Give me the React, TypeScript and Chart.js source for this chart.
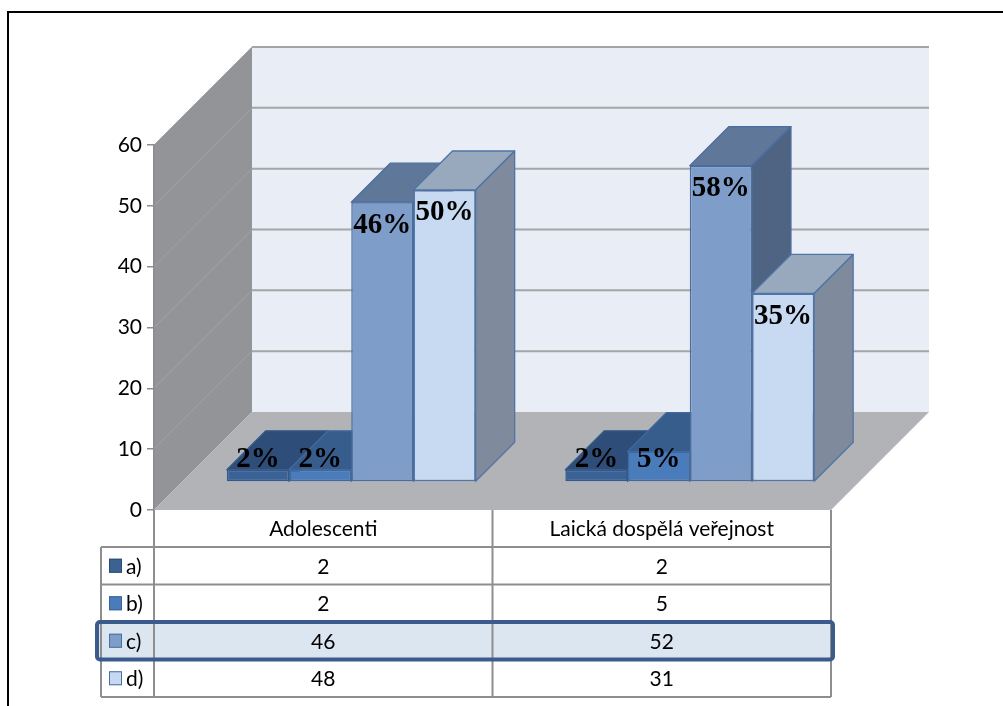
import React, { useEffect, useRef } from 'react';
import { Chart, registerables } from 'chart.js';

Chart.register(...registerables);

// Survey answers per group (counts), plus the percentage shown on each column
const categories = ['Adolescenti', 'Laická dospělá veřejnost'];
const seriesNames = ['a)', 'b)', 'c)', 'd)'];
const valuesA = [2, 2];
const valuesB = [2, 5];
const valuesC = [46, 52];
const valuesD = [48, 31];
const percentA = [2, 2];
const percentB = [2, 5];
const percentC = [46, 58];
const percentD = [50, 35];
const yMax = 60;
const yStep = 10;
const highlightedRow = 2;

const seriesValues = [valuesA, valuesB, valuesC, valuesD];
const seriesPercents = [percentA, percentB, percentC, percentD];

const faceColors = [
  { front: '#3b6297', top: '#2e4d78', side: '#28446b', edge: '#34598a', key: '#3c6193', keyEdge: '#2d4a73' },
  { front: '#4a7bbb', top: '#375d8d', side: '#2f4f7a', edge: '#41699f', key: '#4a7bbb', keyEdge: '#3a64a0' },
  { front: '#7f9dc9', top: '#5f7798', side: '#4f6383', edge: '#4a6d9e', key: '#7f9dc9', keyEdge: '#4a6fa0' },
  { front: '#c7daf1', top: '#99a9bd', side: '#7f8b9d', edge: '#4f74a5', key: '#c6d9f0', keyEdge: '#4a6fa0' },
];

// Oblique projection: columns sit FRONT_OFFSET deep, are BAR_DEPTH deep, walls are WALL_DEPTH deep
const FRONT_OFFSET = 28;
const BAR_DEPTH = 39;
const WALL_DEPTH = 98;

const TEXT_FONT = '21px Lato';
const HEADER_H = 37;
const ROW_H = 37.5;
const LABEL_COL_W = 53;

type Pt = [number, number];

function polygon(ctx: CanvasRenderingContext2D, pts: Pt[], fill?: string, stroke?: string, lw = 1) {
  ctx.beginPath();
  ctx.moveTo(pts[0][0], pts[0][1]);
  for (let i = 1; i < pts.length; i++) ctx.lineTo(pts[i][0], pts[i][1]);
  ctx.closePath();
  if (fill) {
    ctx.fillStyle = fill;
    ctx.fill();
  }
  if (stroke) {
    ctx.strokeStyle = stroke;
    ctx.lineWidth = lw;
    ctx.lineJoin = 'round';
    ctx.stroke();
  }
}

function line(ctx: CanvasRenderingContext2D, x1: number, y1: number, x2: number, y2: number, color: string, lw: number) {
  ctx.beginPath();
  ctx.moveTo(x1, y1);
  ctx.lineTo(x2, y2);
  ctx.strokeStyle = color;
  ctx.lineWidth = lw;
  ctx.stroke();
}

const scenePlugin = {
  id: 'scene3d',
  beforeDraw(chart: any) {
    const { ctx, chartArea: ca } = chart;
    const yScale = chart.scales.y;
    const L = ca.left, R = ca.right, T = ca.top, B = ca.bottom;
    const D = WALL_DEPTH;
    ctx.save();
    ctx.fillStyle = '#ffffff';
    ctx.fillRect(0, 0, chart.width, chart.height);

    // frame around the whole figure
    ctx.strokeStyle = '#000000';
    ctx.lineWidth = 2;
    ctx.strokeRect(8, 12, chart.width + 20, chart.height + 20);

    // back wall
    ctx.fillStyle = '#e9edf6';
    ctx.fillRect(L + D, T - D, R - L, B - T);
    // side wall
    polygon(ctx, [[L, T], [L + D, T - D], [L + D, B - D], [L, B]], '#929497');
    // floor
    polygon(ctx, [[L, B], [R, B], [R + D, B - D], [L + D, B - D]], '#b1b3b6');

    for (let v = yStep; v <= yMax; v += yStep) {
      const yy = yScale.getPixelForValue(v);
      line(ctx, L + D, yy - D, R + D, yy - D, '#a4a5a7', 2);
      line(ctx, L, yy, L + D, yy - D, '#a2a4a7', 1);
    }
    ctx.restore();
  },
  // Columns are painted series a) to d) (left to right), each one as front face
  // (drawn by the bar controller) plus top and side faces, pushed back into the scene.
  beforeDatasetsDraw(chart: any) {
    const ctx = chart.ctx;
    const d = BAR_DEPTH;
    for (let i = 0; i < seriesNames.length; i++) {
      const meta = chart.getDatasetMeta(i);
      const c = faceColors[i];
      ctx.save();
      ctx.translate(FRONT_OFFSET, -FRONT_OFFSET);
      meta.controller.draw();
      meta.data.forEach((bar: any) => {
        const { x, y, base, width } = bar.getProps(['x', 'y', 'base', 'width'], true);
        const l = x - width / 2;
        const r = x + width / 2;
        polygon(ctx, [[l, y], [r, y], [r + d, y - d], [l + d, y - d]], c.top, c.edge, 1.3);
        polygon(ctx, [[r, y], [r + d, y - d], [r + d, base - d], [r, base]], c.side, c.edge, 1.3);
      });
      ctx.restore();
    }
    return false;
  },
  afterDraw(chart: any) {
    const { ctx, chartArea: ca } = chart;
    const xScale = chart.scales.x;
    const L = ca.left, R = ca.right, B = ca.bottom;

    // percentage labels on the columns
    ctx.save();
    ctx.font = 'bold 29px "Liberation Serif"';
    ctx.fillStyle = '#000000';
    ctx.textAlign = 'center';
    ctx.textBaseline = 'middle';
    seriesPercents.forEach((pcts, i) => {
      const meta = chart.getDatasetMeta(i);
      meta.data.forEach((bar: any, j: number) => {
        const { x, y, base } = bar.getProps(['x', 'y', 'base'], true);
        const ly = Math.min(y + 23, base - 22) - FRONT_OFFSET;
        ctx.fillText(pcts[j] + '%', x + FRONT_OFFSET, ly);
      });
    });
    ctx.restore();

    // data table below the floor
    const mid = (xScale.getPixelForValue(0) + xScale.getPixelForValue(1)) / 2;
    const colEdges = [L, mid, R];
    const left = L - LABEL_COL_W;
    const rowTop = (i: number) => B + HEADER_H + i * ROW_H;
    const gridColor = '#8e8e8e';

    ctx.save();
    ctx.fillStyle = '#dce6f1';
    ctx.fillRect(left - 3, rowTop(highlightedRow), R - left + 5, ROW_H);

    for (let i = 0; i <= seriesNames.length; i++) {
      line(ctx, left, rowTop(i), R, rowTop(i), gridColor, 2);
    }
    line(ctx, left, rowTop(0), left, rowTop(seriesNames.length), gridColor, 2);
    colEdges.forEach((xe) => line(ctx, xe, B, xe, rowTop(seriesNames.length), gridColor, 2));

    ctx.font = TEXT_FONT;
    ctx.fillStyle = '#000000';
    ctx.textBaseline = 'middle';
    ctx.textAlign = 'center';
    categories.forEach((cat, j) => {
      ctx.fillText(cat, xScale.getPixelForValue(j), B + HEADER_H / 2 + 1);
    });

    seriesNames.forEach((name, i) => {
      const cy = rowTop(i) + ROW_H / 2;
      const c = faceColors[i];
      // legend key
      ctx.fillStyle = c.key;
      ctx.fillRect(left + 8, cy - 7, 13, 14);
      ctx.strokeStyle = c.keyEdge;
      ctx.lineWidth = 1;
      ctx.strokeRect(left + 8.5, cy - 6.5, 12, 13);
      ctx.fillStyle = '#000000';
      ctx.textAlign = 'left';
      ctx.fillText(name, left + 25, cy + 1);
      ctx.textAlign = 'center';
      seriesValues[i].forEach((v, j) => {
        ctx.fillText(String(v), xScale.getPixelForValue(j), cy + 1);
      });
    });

    // outline of the highlighted row
    ctx.strokeStyle = '#3b5b8c';
    ctx.lineWidth = 4;
    ctx.beginPath();
    (ctx as any).roundRect(left - 4, rowTop(highlightedRow), R - left + 6, ROW_H, 3);
    ctx.stroke();
    ctx.restore();
  },
};

export default function App() {
  const canvasRef = useRef<HTMLCanvasElement>(null);

  useEffect(() => {
    if (!canvasRef.current) return;
    const chart = new Chart(canvasRef.current, {
      type: 'bar',
      data: {
        labels: categories,
        datasets: seriesNames.map((name, i) => ({
          label: name,
          data: seriesValues[i],
          backgroundColor: faceColors[i].front,
          borderColor: faceColors[i].edge,
          borderWidth: 1.5,
          borderSkipped: false,
          categoryPercentage: 0.735,
          barPercentage: 1,
        })),
      },
      options: {
        responsive: false,
        devicePixelRatio: 1,
        animation: false,
        layout: { padding: { left: 0, right: 172, top: 145, bottom: 196 } },
        plugins: {
          legend: { display: false },
          tooltip: { enabled: false },
          title: { display: false },
        },
        scales: {
          x: { display: false, offset: true },
          y: {
            min: 0,
            max: yMax,
            ticks: { stepSize: yStep, color: '#000000', font: { family: 'Lato', size: 21 }, padding: 5 },
            grid: { drawOnChartArea: false, drawTicks: true, tickLength: 7, color: '#8c8c8c', lineWidth: 1.5 },
            border: { display: true, color: '#8c8c8c', width: 1.5 },
            afterFit(scale: any) {
              scale.width = 154;
            },
          },
        },
      },
      plugins: [scenePlugin],
    });
    return () => chart.destroy();
  }, []);

  return (
    <div style={{ position: 'fixed', left: 0, top: 0, width: 1003, height: 706, background: '#ffffff' }}>
      <canvas ref={canvasRef} width={1003} height={706} />
    </div>
  );
}
